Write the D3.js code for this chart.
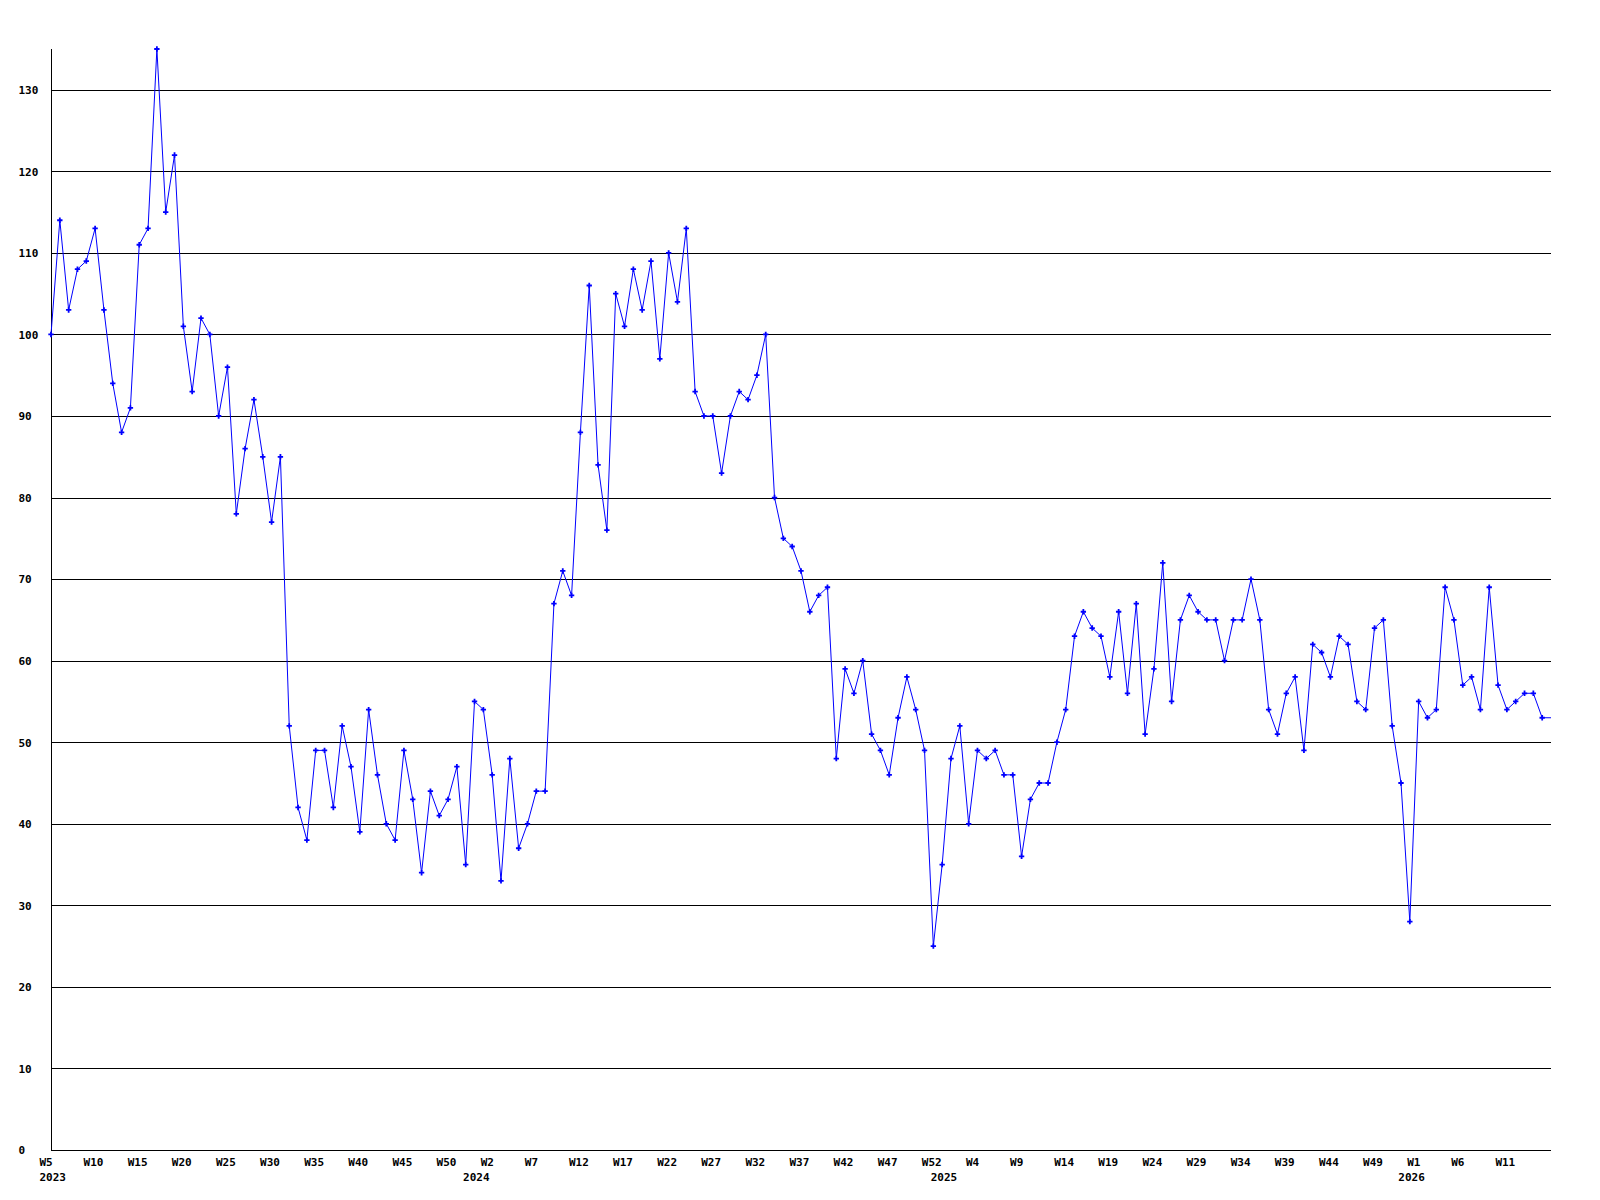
<!DOCTYPE html>
<html>
<head>
<meta charset="utf-8">
<script src="https://cdn.jsdelivr.net/npm/d3@7"></script>
<style>
  html, body { margin: 0; padding: 0; background: #fff; }
  svg { display: block; }
  text { font-family: "DejaVu Sans Mono", "Liberation Mono", monospace; font-weight: bold; font-size: 11px; fill: #000; }
</style>
</head>
<body>
<svg id="chart" width="1600" height="1200"></svg>
<script>
// Weekly values, W5 2023 .. 2026
const values = [
  100,114,103,108,109,113,103,94,88,91,
  111,113,135,115,122,101,93,102,100,90,
  96,78,86,92,85,77,85,52,42,38,
  49,49,42,52,47,39,54,46,40,38,
  49,43,34,44,41,43,47,35,55,54,
  46,33,48,37,40,44,44,67,71,68,
  88,106,84,76,105,101,108,103,109,97,
  110,104,113,93,90,90,83,90,93,92,
  95,100,80,75,74,71,66,68,69,48,
  59,56,60,51,49,46,53,58,54,49,
  25,35,48,52,40,49,48,49,46,46,
  36,43,45,45,50,54,63,66,64,63,
  58,66,56,67,51,59,72,55,65,68,
  66,65,65,60,65,65,70,65,54,51,
  56,58,49,62,61,58,63,62,55,54,
  64,65,52,45,28,55,53,54,69,65,
  57,58,54,69,57,54,55,56,56,53,
  53
];

// X tick labels (every 5th week) and their point indices
const xTickLabels = ["W5","W10","W15","W20","W25","W30","W35","W40","W45","W50",
  "W2","W7","W12","W17","W22","W27","W32","W37","W42","W47","W52",
  "W4","W9","W14","W19","W24","W29","W34","W39","W44","W49",
  "W1","W6","W11"];
const xTickIndex = [0,5,10,15,20,25,30,35,40,45,50,55,60,65,70,75,80,85,90,95,100,
  105,110,115,120,125,130,135,140,145,150,155,160,165];

const yearLabels = ["2023","2024","2025","2026"];
const yearIndex = [0,48,101,154];

const yTicks = [0,10,20,30,40,50,60,70,80,90,100,110,120,130];

(function () {
const svg = d3.select("#chart");
svg.append("rect").attr("width",1600).attr("height",1200).attr("fill","#fff");

const pL = 51, pR = 1551, pT = 49, pB = 1150;
const x = d3.scaleLinear().domain([0, values.length - 1]).range([pL, pR]);
const y = d3.scaleLinear().domain([0, d3.max(values)]).range([pB, pT]);

// Gridlines + y labels via axis
const yAxis = d3.axisLeft(y).tickValues(yTicks).tickSizeInner(-(pR - pL)).tickSizeOuter(0).tickFormat(d => d);
const gy = svg.append("g").attr("transform", `translate(${pL},0)`).call(yAxis);
gy.select(".domain").remove();
gy.selectAll(".tick line").attr("stroke", "#000").attr("stroke-width", 1).attr("shape-rendering", "crispEdges");
gy.selectAll(".tick text")
  .attr("x", 18.5 - pL).attr("text-anchor", "start").attr("dy", "0.35em")
  .style("font-family", "'DejaVu Sans Mono', monospace").style("font-weight", "bold").style("font-size", "11px").attr("fill", "#000");

// Axis lines
svg.append("line").attr("x1", pL).attr("x2", pL).attr("y1", pT).attr("y2", pB)
  .attr("stroke", "#000").attr("shape-rendering", "crispEdges");
svg.append("line").attr("x1", pL).attr("x2", pR).attr("y1", pB).attr("y2", pB)
  .attr("stroke", "#000").attr("shape-rendering", "crispEdges");

// X tick labels
svg.append("g").selectAll("text").data(xTickIndex).join("text")
  .attr("x", d => x(d) - 11.5).attr("y", 1162).attr("dy", "0.35em")
  .text((d, i) => xTickLabels[i]);

// Year labels
svg.append("g").selectAll("text").data(yearIndex).join("text")
  .attr("x", d => x(d) - 11.5).attr("y", 1177).attr("dy", "0.35em")
  .text((d, i) => yearLabels[i]);

// Line
const line = d3.line().x((d, i) => x(i)).y(d => y(d));
svg.append("path").datum(values).attr("d", line)
  .attr("fill", "none").attr("stroke", "#0000ff").attr("stroke-width", 1);

// Markers (all but the last point)
const sym = d3.symbol().type(d3.symbolCross).size(16);
svg.append("g").selectAll("path").data(values.slice(0, values.length - 1)).join("path")
  .attr("transform", (d, i) => `translate(${x(i)},${y(d)})`)
  .attr("d", sym).attr("fill", "#0000ff");
})();
</script>
</body>
</html>
